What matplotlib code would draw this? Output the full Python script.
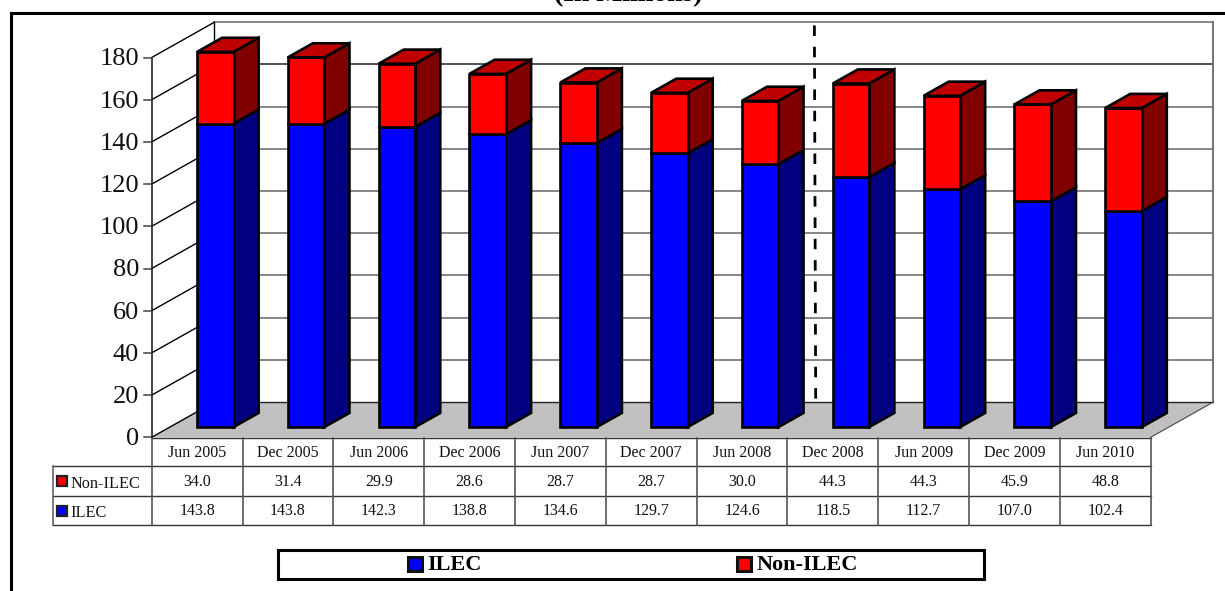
from __future__ import annotations

import matplotlib
matplotlib.use("Agg")
import matplotlib.pyplot as plt
from matplotlib.patches import Polygon, Rectangle

plt.rcParams["font.family"] = ["Liberation Serif", "DejaVu Serif"]

periods = ["Jun 2005", "Dec 2005", "Jun 2006", "Dec 2006", "Jun 2007", "Dec 2007",
           "Jun 2008", "Dec 2008", "Jun 2009", "Dec 2009", "Jun 2010"]
ilec = [143.8, 143.8, 142.3, 138.8, 134.6, 129.7, 124.6, 118.5, 112.7, 107.0, 102.4]
non_ilec = [34.0, 31.4, 29.9, 28.6, 28.7, 28.7, 30.0, 44.3, 44.3, 45.9, 48.8]
y_ticks = list(range(0, 181, 20))

# chart frame in pixels
X0, X1 = 151.7, 1150.7
Y0 = 437.3
PX_PER_UNIT = 2.11
DX, DY = 62.7, 35.3
BAR_W = 36.5
F_FRONT, F_BACK = 0.29, 0.69
CAT_W = (X1 - X0) / len(periods)


def proj(x, v, f=0.0):
    return (x + DX * f, Y0 - v * PX_PER_UNIT - DY * f)


def poly(ax, pts, face, edge="black", lw=1.9, z=2):
    ax.add_patch(Polygon(pts, closed=True, facecolor=face, edgecolor=edge, linewidth=lw,
                         joinstyle="miter", zorder=z))


def draw_segment(ax, left, lo, hi, front, side, top=None):
    right = left + BAR_W
    poly(ax, [proj(right, lo, F_FRONT), proj(right, lo, F_BACK), proj(right, hi, F_BACK), proj(right, hi, F_FRONT)], side)
    poly(ax, [proj(left, lo, F_FRONT), proj(right, lo, F_FRONT), proj(right, hi, F_FRONT), proj(left, hi, F_FRONT)], front)
    if top:
        poly(ax, [proj(left, hi, F_FRONT), proj(right, hi, F_FRONT), proj(right, hi, F_BACK), proj(left, hi, F_BACK)], top)


def main():
    fig = plt.figure(figsize=(12.25, 5.91), dpi=100)
    ax = fig.add_axes([0, 0, 1, 1])
    ax.set_xlim(0, 1225)
    ax.set_ylim(591, 0)
    ax.axis("off")

    # title is cut off by the top of the page in the source
    ax.text(628, 1.5, "(In Millions)", fontsize=20, fontweight="bold", ha="center", va="baseline", color="black")
    ax.plot([10.5, 10.5, 1225], [591, 12.5, 12.5], color="black", lw=2.2, solid_joinstyle="miter")

    # walls and floor
    top = y_ticks[-1]
    poly(ax, [proj(X0, 0), proj(X1, 0), proj(X1, 0, 1), proj(X0, 0, 1)], "#c0c0c0", edge="none", lw=0, z=1)
    ax.plot(*zip(proj(X0, 0, 1), proj(X1, 0, 1)), color="#222222", lw=1.0, zorder=1.2)
    ax.plot(*zip(proj(X1, 0, 1), proj(X1, top, 1)), color="#777777", lw=1.5, zorder=1.2)
    ax.plot(*zip(proj(X0, 0), proj(X0, top)), color="#444444", lw=1.4, zorder=1.2)
    ax.plot(*zip(proj(X0, 0, 1), proj(X0, top, 1)), color="black", lw=1.0, zorder=1.2)
    for t in y_ticks:
        if t:
            color = "#222222" if t == 160 else "#666666"
            ax.plot(*zip(proj(X0, t, 1), proj(X1, t, 1)), color=color, lw=1.1, zorder=1.1)
            ax.plot(*zip(proj(X0, t), proj(X0, t, 1)), color="black", lw=1.0, zorder=1.2)
        ax.plot(*zip(proj(X0 - 8, t), proj(X0, t)), color="#444444", lw=1.1, zorder=1.2)
        ax.text(X0 - 12.5, proj(X0, t)[1] + 1.8, str(t), fontsize=19, ha="right", va="center", color="#111111")
    ax.plot(*zip(proj(X0, 0), proj(X0, 0, 1)), color="black", lw=1.0, zorder=1.2)
    ax.plot(*zip(proj(X1, 0), proj(X1, 0, 1)), color="#444444", lw=0.8, zorder=1.2)

    # stacked 3d bars
    for i, (a, b) in enumerate(zip(ilec, non_ilec)):
        left = X0 + CAT_W * i + (CAT_W - BAR_W) / 2
        draw_segment(ax, left, 0, a, "#0000ff", "#000080")
        draw_segment(ax, left, a, a + b, "#ff0000", "#800000", top="#c00000")

    # divider between Jun 2008 and Dec 2008
    div_top = proj(X0 + CAT_W * 7, 188, 0.43)
    div_bot = proj(X0 + CAT_W * 7 + 1.3, 11, 0.43)
    ax.plot(*zip(div_top, div_bot), color="black", lw=2.0, dashes=(3.78, 3.9), zorder=1.5)

    # data table
    row_y = [437.5, 466.3, 496.3, 525.3]
    label_left = 53
    for y in row_y[1:]:
        ax.plot([label_left, X1], [y, y], color="#333333", lw=1.0)
    ax.plot([X0, X1], [row_y[0], row_y[0]], color="#333333", lw=1.0)
    ax.plot([label_left, label_left], [row_y[1], row_y[3]], color="#555555", lw=1.1)
    for j in range(len(periods) + 1):
        ax.plot([X0 + CAT_W * j] * 2, [row_y[0], row_y[3]], color="#555555", lw=1.2)
    for j, name in enumerate(periods):
        xc = X0 + CAT_W * (j + 0.5)
        ax.text(xc, (row_y[0] + row_y[1]) / 2 + 1, name, fontsize=11.5, ha="center", va="center", color="#111111")
        ax.text(xc, (row_y[1] + row_y[2]) / 2 + 0.5, f"{non_ilec[j]:.1f}", fontsize=11.5, ha="center", va="center", color="#111111")
        ax.text(xc, (row_y[2] + row_y[3]) / 2 + 0.2, f"{ilec[j]:.1f}", fontsize=11.5, ha="center", va="center", color="#111111")
    for name, color, r in (("Non-ILEC", "#ff0000", 1), ("ILEC", "#0000ff", 2)):
        yc = (row_y[r] + row_y[r + 1]) / 2
        ax.add_patch(Rectangle((56.5, yc - 5), 10, 10, facecolor=color, edgecolor="#222222", lw=1.6))
        ax.text(70.5, yc + 2.2, name, fontsize=11.7, ha="left", va="center", color="#111111")

    # legend
    ax.add_patch(Rectangle((277.5, 549.5), 706, 29, facecolor="white", edgecolor="black", lw=2.2))
    for name, color, xb in (("ILEC", "#0000ff", 407.5), ("Non-ILEC", "#ff0000", 736.5)):
        ax.add_patch(Rectangle((xb, 557), 14, 14, facecolor=color, edgecolor="#111111", lw=2.2))
        ax.text(xb + 20, 565.5, name, fontsize=16, fontweight="bold", ha="left", va="center", color="black")

    fig.savefig("out.png", dpi=100)


if __name__ == "__main__":
    main()
